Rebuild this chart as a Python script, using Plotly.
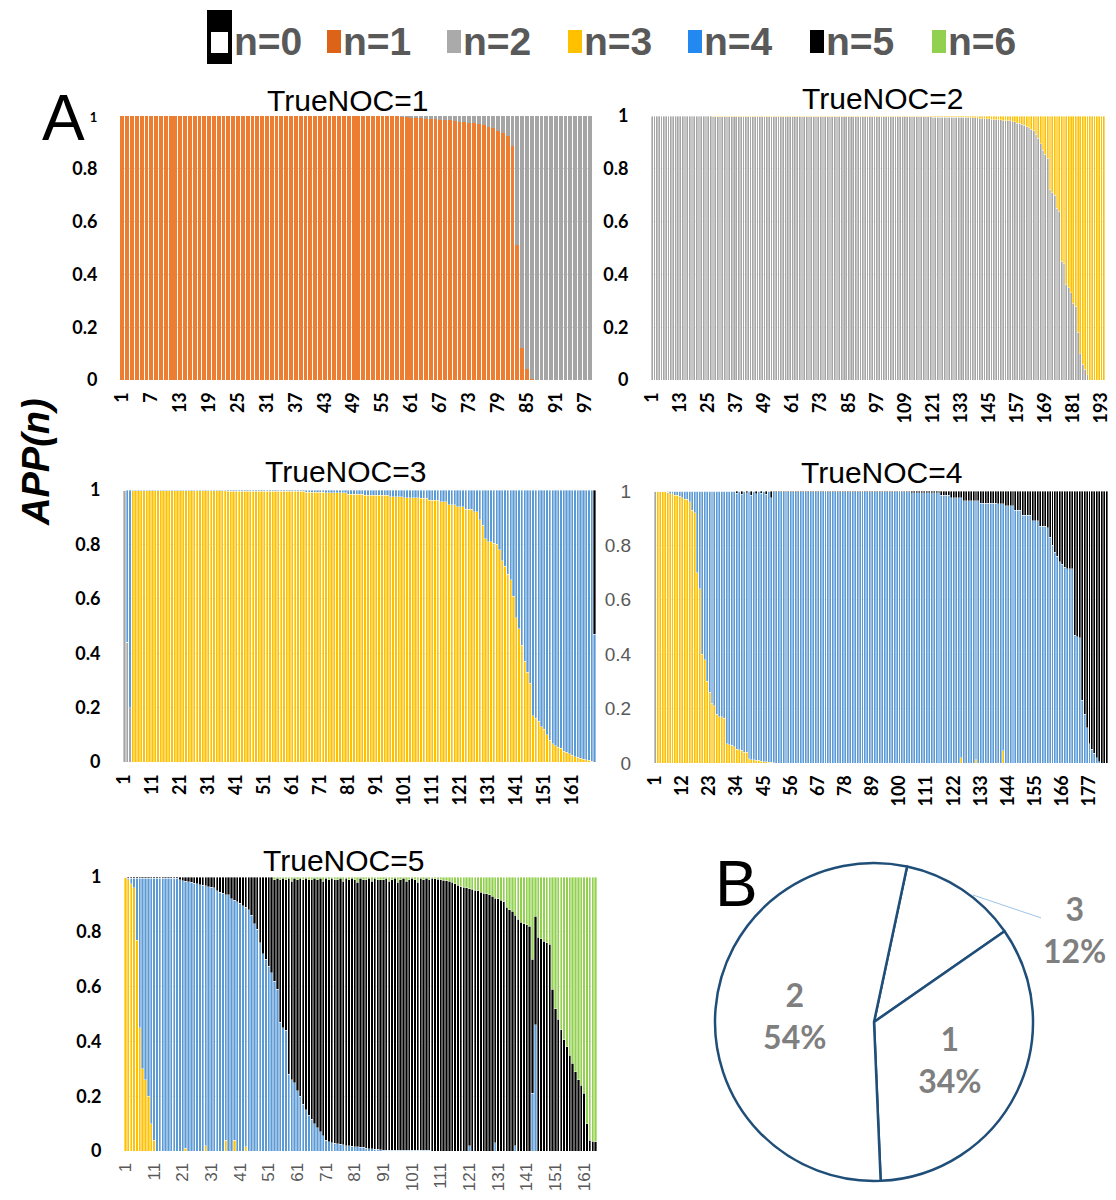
import plotly.graph_objects as go

# ---------------- DATA ----------------
# TrueNOC=1 : 98 samples, APP(n=1) and APP(n=2)
P1_X = list(range(1, 99))
P1_N1 = [
    1, 1, 1, 1, 1, 1, 1, 1, 1, 1,
    1, 1, 1, 1, 1, 1, 1, 1, 1, 1,
    1, 1, 1, 1, 1, 1, 1, 1, 1, 1,
    1, 1, 1, 1, 1, 1, 1, 1, 1, 1,
    1, 1, 1, 1, 1, 1, 1, 1, 1, 1,
    1, 1, 1, 1, 1, 1, 1, 1, 0.998, 0.997,
    0.995, 0.995, 0.993, 0.99, 0.99, 0.988, 0.986, 0.985, 0.983, 0.98,
    0.979, 0.977, 0.975, 0.972, 0.97, 0.966, 0.96, 0.955, 0.945, 0.935,
    0.925, 0.885, 0.51, 0.12, 0.04, 0.005, 0, 0, 0, 0,
    0, 0, 0, 0, 0, 0, 0, 0]
P1_X_N2 = list(range(59, 99))
P1_N2 = [
    0.002, 0.003,
    0.005, 0.005, 0.007, 0.01, 0.01, 0.012, 0.014, 0.015, 0.017, 0.02,
    0.021, 0.023, 0.025, 0.028, 0.03, 0.034, 0.04, 0.045, 0.055, 0.065,
    0.075, 0.115, 0.49, 0.88, 0.96, 0.995, 1, 1, 1, 1,
    1, 1, 1, 1, 1, 1, 1, 1]
P1_TICKS = [1, 7, 13, 19, 25, 31, 37, 43, 49, 55, 61, 67, 73, 79, 85, 91, 97]

# TrueNOC=2 : 194 samples, APP(n=2) and APP(n=3)
P2_X = list(range(1, 195))
P2_N2 = [
    1, 1, 1, 1, 1, 1, 1, 1, 1, 1,
    1, 1, 1, 1, 1, 1, 1, 1, 1, 1,
    1, 1, 1, 1, 1, 1, 0.998, 0.998, 0.998, 0.998,
    0.998, 0.998, 0.998, 0.998, 0.998, 0.998, 0.998, 0.998, 0.998, 0.998,
    0.998, 0.998, 0.998, 0.998, 0.998, 0.998, 0.998, 0.998, 0.998, 0.998,
    0.998, 0.998, 0.998, 0.998, 0.998, 0.998, 0.998, 0.998, 0.998, 0.998,
    0.998, 0.998, 0.998, 0.998, 0.998, 0.998, 0.998, 0.998, 0.998, 0.998,
    0.998, 0.998, 0.998, 0.998, 0.998, 0.998, 0.998, 0.998, 0.998, 0.998,
    0.998, 0.998, 0.998, 0.998, 0.998, 0.998, 0.998, 0.998, 0.998, 0.998,
    0.998, 0.998, 0.998, 0.998, 0.998, 0.998, 0.998, 0.998, 0.998, 0.998,
    0.997, 0.997, 0.997, 0.997, 0.997, 0.997, 0.997, 0.997, 0.997, 0.997,
    0.997, 0.997, 0.997, 0.997, 0.997, 0.997, 0.997, 0.997, 0.997, 0.997,
    0.996, 0.996, 0.996, 0.996, 0.996, 0.996, 0.996, 0.996, 0.996, 0.996,
    0.995, 0.995, 0.995, 0.995, 0.995, 0.993, 0.993, 0.993, 0.993, 0.993,
    0.99, 0.99, 0.99, 0.99, 0.99, 0.986, 0.986, 0.986, 0.986, 0.986,
    0.982, 0.982, 0.982, 0.982, 0.978, 0.978, 0.972, 0.972, 0.968, 0.965,
    0.96, 0.955, 0.95, 0.945, 0.93, 0.915, 0.895, 0.87, 0.855, 0.84,
    0.72, 0.71, 0.70, 0.65, 0.64, 0.45, 0.44, 0.36, 0.35, 0.33,
    0.29, 0.28, 0.18, 0.10, 0.06, 0.04, 0.02, 0, 0, 0,
    0, 0, 0, 0]
P2_X_N3 = list(range(27, 195))
P2_N3 = [
    0.002, 0.002, 0.002, 0.002,
    0.002, 0.002, 0.002, 0.002, 0.002, 0.002, 0.002, 0.002, 0.002, 0.002,
    0.002, 0.002, 0.002, 0.002, 0.002, 0.002, 0.002, 0.002, 0.002, 0.002,
    0.002, 0.002, 0.002, 0.002, 0.002, 0.002, 0.002, 0.002, 0.002, 0.002,
    0.002, 0.002, 0.002, 0.002, 0.002, 0.002, 0.002, 0.002, 0.002, 0.002,
    0.002, 0.002, 0.002, 0.002, 0.002, 0.002, 0.002, 0.002, 0.002, 0.002,
    0.002, 0.002, 0.002, 0.002, 0.002, 0.002, 0.002, 0.002, 0.002, 0.002,
    0.002, 0.002, 0.002, 0.002, 0.002, 0.002, 0.002, 0.002, 0.002, 0.002,
    0.003, 0.003, 0.003, 0.003, 0.003, 0.003, 0.003, 0.003, 0.003, 0.003,
    0.003, 0.003, 0.003, 0.003, 0.003, 0.003, 0.003, 0.003, 0.003, 0.003,
    0.004, 0.004, 0.004, 0.004, 0.004, 0.004, 0.004, 0.004, 0.004, 0.004,
    0.005, 0.005, 0.005, 0.005, 0.005, 0.007, 0.007, 0.007, 0.007, 0.007,
    0.01, 0.01, 0.01, 0.01, 0.01, 0.014, 0.014, 0.014, 0.014, 0.014,
    0.018, 0.018, 0.018, 0.018, 0.022, 0.022, 0.028, 0.028, 0.032, 0.035,
    0.04, 0.045, 0.05, 0.055, 0.07, 0.085, 0.105, 0.13, 0.145, 0.16,
    0.28, 0.29, 0.30, 0.35, 0.36, 0.55, 0.56, 0.64, 0.65, 0.67,
    0.71, 0.72, 0.82, 0.90, 0.94, 0.96, 0.98, 1, 1, 1,
    1, 1, 1, 1]
P2_TICKS = [1, 13, 25, 37, 49, 61, 73, 85, 97, 109, 121, 133, 145, 157, 169, 181, 193]

# TrueNOC=3 : 169 samples, APP(n=2..5)
P3_X = list(range(1, 170))
P3_X_N2 = [1, 2, 3]
P3_N2 = [1.0, 0.44, 0.2]
P3_N3 = [
    0, 0, 0, 0.998, 0.998, 0.998, 0.998, 0.998, 0.998, 0.998,
    0.997, 0.997, 0.997, 0.997, 0.997, 0.997, 0.997, 0.997, 0.997, 0.997,
    0.997, 0.997, 0.997, 0.997, 0.997, 0.997, 0.997, 0.997, 0.997, 0.997,
    0.997, 0.997, 0.997, 0.997, 0.997, 0.997, 0.997, 0.996, 0.996, 0.996,
    0.996, 0.996, 0.996, 0.996, 0.996, 0.996, 0.996, 0.996, 0.996, 0.996,
    0.996, 0.996, 0.996, 0.996, 0.996, 0.996, 0.996, 0.996, 0.995, 0.995,
    0.995, 0.995, 0.995, 0.995, 0.995, 0.992, 0.992, 0.992, 0.992, 0.992,
    0.992, 0.992, 0.99, 0.99, 0.99, 0.99, 0.99, 0.99, 0.99, 0.99,
    0.985, 0.985, 0.985, 0.985, 0.985, 0.985, 0.98, 0.98, 0.98, 0.98,
    0.98, 0.98, 0.98, 0.98, 0.98, 0.975, 0.975, 0.975, 0.975, 0.975,
    0.972, 0.972, 0.972, 0.972, 0.972, 0.972, 0.97, 0.97, 0.97, 0.962,
    0.962, 0.962, 0.962, 0.956, 0.956, 0.956, 0.945, 0.945, 0.945, 0.938,
    0.938, 0.938, 0.93, 0.93, 0.93, 0.92, 0.92, 0.89, 0.87, 0.82,
    0.81, 0.81, 0.805, 0.80, 0.78, 0.74, 0.72, 0.69, 0.67, 0.61,
    0.53, 0.49, 0.43, 0.37, 0.33, 0.29, 0.17, 0.16, 0.15, 0.13,
    0.12, 0.10, 0.08, 0.067, 0.06, 0.055, 0.05, 0.04, 0.035, 0.03,
    0.025, 0.02, 0.018, 0.014, 0.01, 0.008, 0.006, 0.003, 0]
P3_N4 = [
    0, 0.56, 0.8, 0.002, 0.002, 0.002, 0.002, 0.002, 0.002, 0.002,
    0.003, 0.003, 0.003, 0.003, 0.003, 0.003, 0.003, 0.003, 0.003, 0.003,
    0.003, 0.003, 0.003, 0.003, 0.003, 0.003, 0.003, 0.003, 0.003, 0.003,
    0.003, 0.003, 0.003, 0.003, 0.003, 0.003, 0.003, 0.004, 0.004, 0.004,
    0.004, 0.004, 0.004, 0.004, 0.004, 0.004, 0.004, 0.004, 0.004, 0.004,
    0.004, 0.004, 0.004, 0.004, 0.004, 0.004, 0.004, 0.004, 0.005, 0.005,
    0.005, 0.005, 0.005, 0.005, 0.005, 0.008, 0.008, 0.008, 0.008, 0.008,
    0.008, 0.008, 0.01, 0.01, 0.01, 0.01, 0.01, 0.01, 0.01, 0.01,
    0.015, 0.015, 0.015, 0.015, 0.015, 0.015, 0.02, 0.02, 0.02, 0.02,
    0.02, 0.02, 0.02, 0.02, 0.02, 0.025, 0.025, 0.025, 0.025, 0.025,
    0.028, 0.028, 0.028, 0.028, 0.028, 0.028, 0.03, 0.03, 0.03, 0.038,
    0.038, 0.038, 0.038, 0.044, 0.044, 0.044, 0.055, 0.055, 0.055, 0.062,
    0.062, 0.062, 0.07, 0.07, 0.07, 0.08, 0.08, 0.11, 0.13, 0.18,
    0.19, 0.19, 0.195, 0.20, 0.22, 0.26, 0.28, 0.31, 0.33, 0.39,
    0.47, 0.51, 0.57, 0.63, 0.67, 0.71, 0.83, 0.84, 0.85, 0.87,
    0.88, 0.90, 0.92, 0.933, 0.94, 0.945, 0.95, 0.96, 0.965, 0.97,
    0.975, 0.98, 0.982, 0.986, 0.99, 0.992, 0.994, 0.997, 0.47]
P3_X_N5 = [169]
P3_N5 = [0.53]
P3_TICKS = [1, 11, 21, 31, 41, 51, 61, 71, 81, 91, 101, 111, 121, 131, 141, 151, 161]

# TrueNOC=4 : 184 samples, APP(n=2..5)
P4_X = list(range(1, 185))
P4_X_N2 = [1]
P4_N2 = [1.0]
P4_X_N3 = list(range(2, 50)) + [125, 131, 142]
P4_N3 = [
    1.0, 1.0, 1.0, 0.998, 0.995, 0.99, 0.99, 0.985, 0.985, 0.98,
    0.975, 0.97, 0.97, 0.96, 0.93, 0.92, 0.70, 0.64, 0.40, 0.38,
    0.30, 0.26, 0.22, 0.21, 0.18, 0.17, 0.17, 0.165, 0.07, 0.068,
    0.065, 0.06, 0.05, 0.048, 0.047, 0.04, 0.04, 0.015, 0.012, 0.012,
    0.01, 0.01, 0.006, 0.005, 0.004, 0.003, 0.002, 0.001,
    0.02, 0.012, 0.045]
P4_N4 = [
    0, 0, 0, 0, 0.002, 0.005, 0.01, 0.01, 0.015, 0.015,
    0.02, 0.025, 0.03, 0.03, 0.04, 0.07, 0.08, 0.30, 0.36, 0.60,
    0.62, 0.70, 0.74, 0.78, 0.79, 0.82, 0.83, 0.83, 0.835, 0.93,
    0.932, 0.935, 0.94, 0.942, 0.952, 0.941, 0.96, 0.954, 0.985, 0.973,
    0.988, 0.98, 0.99, 0.986, 0.995, 0.984, 0.997, 0.973, 0.997, 0.998,
    0.998, 0.998, 0.998, 0.998, 0.998, 0.998, 0.998, 0.998, 0.998, 0.998,
    0.998, 0.998, 0.998, 0.998, 0.998, 0.998, 0.998, 0.998, 0.998, 0.998,
    0.998, 0.998, 0.998, 0.998, 0.998, 0.998, 0.998, 0.998, 0.998, 0.998,
    0.998, 0.998, 0.998, 0.998, 0.998, 0.998, 0.998, 0.998, 0.998, 0.998,
    0.998, 0.998, 0.998, 0.998, 0.998, 0.998, 0.998, 0.998, 0.998, 0.997,
    0.997, 0.997, 0.997, 0.997, 0.993, 0.993, 0.993, 0.993, 0.993, 0.993,
    0.993, 0.993, 0.993, 0.993, 0.993, 0.993, 0.985, 0.985, 0.985, 0.985,
    0.975, 0.975, 0.975, 0.975, 0.955, 0.965, 0.965, 0.965, 0.965, 0.965,
    0.953, 0.965, 0.955, 0.955, 0.955, 0.955, 0.955, 0.955, 0.955, 0.953,
    0.953, 0.908, 0.945, 0.945, 0.945, 0.945, 0.93, 0.93, 0.93, 0.91,
    0.91, 0.91, 0.91, 0.89, 0.89, 0.89, 0.87, 0.87, 0.87, 0.865,
    0.83, 0.80, 0.775, 0.76, 0.74, 0.73, 0.72, 0.715, 0.715, 0.715,
    0.47, 0.465, 0.46, 0.23, 0.18, 0.13, 0.07, 0.05, 0.035, 0.02,
    0.005, 0, 0, 0]
P4_N5 = [
    0, 0, 0, 0, 0, 0, 0, 0, 0, 0,
    0, 0, 0, 0, 0, 0, 0, 0, 0, 0,
    0, 0, 0, 0, 0, 0, 0, 0, 0, 0,
    0, 0, 0, 0.008, 0, 0.012, 0, 0.006, 0, 0.015,
    0, 0.01, 0, 0.008, 0, 0.012, 0, 0.025, 0.002, 0.002,
    0.002, 0.002, 0.002, 0.002, 0.002, 0.002, 0.002, 0.002, 0.002, 0.002,
    0.002, 0.002, 0.002, 0.002, 0.002, 0.002, 0.002, 0.002, 0.002, 0.002,
    0.002, 0.002, 0.002, 0.002, 0.002, 0.002, 0.002, 0.002, 0.002, 0.002,
    0.002, 0.002, 0.002, 0.002, 0.002, 0.002, 0.002, 0.002, 0.002, 0.002,
    0.002, 0.002, 0.002, 0.002, 0.002, 0.002, 0.002, 0.002, 0.002, 0.003,
    0.003, 0.003, 0.003, 0.003, 0.007, 0.007, 0.007, 0.007, 0.007, 0.007,
    0.007, 0.007, 0.007, 0.007, 0.007, 0.007, 0.015, 0.015, 0.015, 0.015,
    0.025, 0.025, 0.025, 0.025, 0.025, 0.035, 0.035, 0.035, 0.035, 0.035,
    0.035, 0.035, 0.045, 0.045, 0.045, 0.045, 0.045, 0.045, 0.045, 0.047,
    0.047, 0.047, 0.055, 0.055, 0.055, 0.055, 0.07, 0.07, 0.07, 0.09,
    0.09, 0.09, 0.09, 0.11, 0.11, 0.11, 0.13, 0.13, 0.13, 0.135,
    0.17, 0.20, 0.225, 0.24, 0.26, 0.27, 0.28, 0.285, 0.285, 0.285,
    0.53, 0.535, 0.54, 0.77, 0.82, 0.87, 0.93, 0.95, 0.965, 0.98,
    0.995, 1, 1, 1]
P4_TICKS = [1, 12, 23, 34, 45, 56, 67, 78, 89, 100, 111, 122, 133, 144, 155, 166, 177]

# TrueNOC=5 : 165 samples, APP(n=3..6)
P5_X = list(range(1, 166))
P5_X_N3 = [1, 2, 3, 4, 5, 6, 7, 8, 9, 10, 11, 22, 29, 36, 39, 43]
P5_N3 = [1.0, 0.99, 0.975, 0.96, 0.77, 0.45, 0.30, 0.26, 0.20, 0.10, 0.04,
         0.01, 0.02, 0.04, 0.04, 0.015]
P5_N4 = [
    0, 0.005, 0.02, 0.035, 0.225, 0.545, 0.695, 0.735, 0.795, 0.895,
    0.955, 0.995, 0.995, 0.995, 0.995, 0.995, 0.995, 0.995, 0.995, 0.99,
    0.987, 0.975, 0.983, 0.98, 0.978, 0.975, 0.972, 0.97, 0.948, 0.965,
    0.962, 0.96, 0.95, 0.945, 0.94, 0.895, 0.935, 0.92, 0.875, 0.91,
    0.905, 0.895, 0.875, 0.88, 0.86, 0.83, 0.81, 0.76, 0.72, 0.70,
    0.675, 0.65, 0.62, 0.59, 0.47, 0.45, 0.44, 0.28, 0.26, 0.25,
    0.22, 0.20, 0.17, 0.15, 0.13, 0.115, 0.10, 0.085, 0.07, 0.055,
    0.04, 0.034, 0.03, 0.028, 0.026, 0.024, 0.022, 0.02, 0.019, 0.018,
    0.016, 0.015, 0.014, 0.013, 0.01, 0.009, 0.008, 0.007, 0.006, 0.005,
    0.002, 0.002, 0.002, 0.002, 0.002, 0.002, 0.002, 0.002, 0.002, 0.002,
    0.002, 0.002, 0.002, 0.002, 0.002, 0.002, 0.002, 0, 0, 0,
    0, 0, 0, 0, 0, 0, 0, 0, 0, 0,
    0.02, 0, 0, 0, 0, 0, 0, 0, 0, 0.03,
    0, 0, 0, 0, 0, 0, 0.02, 0, 0, 0,
    0, 0, 0.21, 0.46, 0, 0, 0, 0, 0, 0,
    0, 0, 0, 0, 0, 0, 0, 0, 0, 0,
    0, 0, 0, 0, 0]
P5_N5 = [
    0, 0.005, 0.005, 0.005, 0.005, 0.005, 0.005, 0.005, 0.005, 0.005,
    0.005, 0.005, 0.005, 0.005, 0.005, 0.005, 0.005, 0.005, 0.005, 0.01,
    0.013, 0.015, 0.017, 0.02, 0.022, 0.025, 0.028, 0.03, 0.032, 0.035,
    0.038, 0.04, 0.05, 0.055, 0.06, 0.065, 0.065, 0.08, 0.085, 0.09,
    0.095, 0.105, 0.11, 0.12, 0.14, 0.17, 0.19, 0.24, 0.28, 0.30,
    0.325, 0.35, 0.37, 0.405, 0.52, 0.545, 0.55, 0.715, 0.725, 0.745,
    0.77, 0.795, 0.82, 0.845, 0.86, 0.875, 0.895, 0.905, 0.925, 0.93,
    0.955, 0.956, 0.965, 0.962, 0.964, 0.971, 0.963, 0.975, 0.971, 0.977,
    0.974, 0.965, 0.981, 0.977, 0.98, 0.986, 0.977, 0.988, 0.984, 0.985,
    0.988, 0.993, 0.983, 0.988, 0.993, 0.978, 0.988, 0.993, 0.983, 0.988,
    0.993, 0.988, 0.978, 0.993, 0.988, 0.993, 0.988, 0.995, 0.993, 0.992,
    0.99, 0.988, 0.986, 0.985, 0.98, 0.975, 0.97, 0.965, 0.962, 0.96,
    0.938, 0.955, 0.952, 0.95, 0.945, 0.94, 0.938, 0.935, 0.93, 0.893,
    0.92, 0.915, 0.91, 0.89, 0.88, 0.875, 0.84, 0.845, 0.835, 0.83,
    0.825, 0.82, 0.49, 0.397, 0.78, 0.775, 0.766, 0.76, 0.754, 0.59,
    0.52, 0.48, 0.443, 0.406, 0.38, 0.35, 0.32, 0.29, 0.26, 0.24,
    0.21, 0.10, 0.04, 0.035, 0.034]
P5_X_N6 = list(range(53, 166))
P5_N6 = [
    0.01, 0.005, 0.01, 0.005, 0.01, 0.005, 0.015, 0.005,
    0.01, 0.005, 0.01, 0.005, 0.01, 0.01, 0.005, 0.01, 0.005, 0.015,
    0.005, 0.01, 0.005, 0.01, 0.01, 0.005, 0.015, 0.005, 0.01, 0.005,
    0.01, 0.02, 0.005, 0.01, 0.01, 0.005, 0.015, 0.005, 0.01, 0.01,
    0.01, 0.005, 0.015, 0.01, 0.005, 0.02, 0.01, 0.005, 0.015, 0.01,
    0.005, 0.01, 0.02, 0.005, 0.01, 0.005, 0.01, 0.005, 0.007, 0.008,
    0.01, 0.012, 0.014, 0.015, 0.02, 0.025, 0.03, 0.035, 0.038, 0.04,
    0.042, 0.045, 0.048, 0.05, 0.055, 0.06, 0.062, 0.065, 0.07, 0.077,
    0.08, 0.085, 0.09, 0.11, 0.12, 0.125, 0.14, 0.155, 0.165, 0.17,
    0.175, 0.18, 0.30, 0.143, 0.22, 0.225, 0.234, 0.24, 0.246, 0.41,
    0.48, 0.52, 0.557, 0.594, 0.62, 0.65, 0.68, 0.71, 0.74, 0.76,
    0.79, 0.90, 0.96, 0.965, 0.966]
P5_TICKS = [1, 11, 21, 31, 41, 51, 61, 71, 81, 91, 101, 111, 121, 131, 141, 151, 161]

# Pie (B)
PIE_LABELS = ["3", "1", "2"]
PIE_VALUES = [12, 34, 54]

LEGEND_NAMES = ["n=0", "n=1", "n=2", "n=3", "n=4", "n=5", "n=6"]
PANEL_TITLES = ["TrueNOC=1", "TrueNOC=2", "TrueNOC=3", "TrueNOC=4", "TrueNOC=5"]

# ---------------- STYLE ----------------
W, H = 1116, 1200
C = {1: "#ED7D31", 2: "#A5A5A5", 3: "#FFC000", 4: "#5B9BD5", 5: "#000000", 6: "#92D050"}
LEG_C = {1: "#DD6318", 2: "#AAAAAA", 3: "#FFC000", 4: "#2388F0", 5: "#000000", 6: "#92D050"}


def fx(px):
    return px / W


def fy(py):
    return 1 - py / H


fig = go.Figure()


def add_bar(x, y, n, ax, edge):
    fig.add_trace(go.Bar(
        x=x, y=y,
        marker=dict(color=C[n], line=dict(width=edge, color="rgba(255,255,255,0.85)")),
        xaxis="x" + ax, yaxis="y" + ax, showlegend=False, hoverinfo="skip"))


add_bar(P1_X, P1_N1, 1, "", 0)
add_bar(P1_X_N2, P1_N2, 2, "", 0)
add_bar(P2_X, P2_N2, 2, "2", 0.45)
add_bar(P2_X_N3, P2_N3, 3, "2", 0.45)
add_bar(P3_X_N2, P3_N2, 2, "3", 0.45)
add_bar(P3_X, P3_N3, 3, "3", 0.45)
add_bar(P3_X, P3_N4, 4, "3", 0.45)
add_bar(P3_X_N5, P3_N5, 5, "3", 0.45)
add_bar(P4_X_N2, P4_N2, 2, "4", 0.45)
add_bar(P4_X_N3, P4_N3, 3, "4", 0.45)
add_bar(P4_X, P4_N4, 4, "4", 0.45)
add_bar(P4_X, P4_N5, 5, "4", 0.45)
add_bar(P5_X_N3, P5_N3, 3, "5", 0.45)
add_bar(P5_X, P5_N4, 4, "5", 0.45)
add_bar(P5_X, P5_N5, 5, "5", 0.45)
add_bar(P5_X_N6, P5_N6, 6, "5", 0.45)

PIE_FONT = dict(family="Lato, Liberation Sans, sans-serif", size=32, color="#7F7F7F", weight="bold")
fig.add_trace(go.Pie(
    labels=PIE_LABELS, values=PIE_VALUES, sort=False, direction="clockwise", rotation=12,
    marker=dict(colors=["white", "white", "white"], line=dict(color="#1F4E79", width=2.5)),
    texttemplate=["", "%{label}<br>%{percent:.0%}", "%{label}<br>%{percent:.0%}"],
    textposition="inside", insidetextorientation="horizontal",
    insidetextfont=PIE_FONT, showlegend=False, hoverinfo="skip",
    domain=dict(x=[fx(715), fx(1033)], y=[fy(1181), fy(863)])))

BOLD_TICK = dict(family="Lato, Liberation Sans, sans-serif", size=18, color="black", weight="bold")
GRAY_TICK = dict(family="Liberation Sans, Arial, sans-serif", size=19, color="#595959")

Y_TEXT = ["0", "0.2", "0.4", "0.6", "0.8", "1"]
Y_TEXT_P1 = ["0", "0.2", "0.4", "0.6", "0.8", "<span style='font-size:13px'>1</span>"]

panels = [
    ("", P1_X, P1_TICKS, (120, 592), (116, 380), BOLD_TICK, BOLD_TICK, Y_TEXT_P1),
    ("2", P2_X, P2_TICKS, (651, 1105), (116, 380), BOLD_TICK, BOLD_TICK, Y_TEXT),
    ("3", P3_X, P3_TICKS, (123, 596), (490, 762), BOLD_TICK, BOLD_TICK, Y_TEXT),
    ("4", P4_X, P4_TICKS, (654, 1108), (491, 763), BOLD_TICK, GRAY_TICK, Y_TEXT),
    ("5", P5_X, P5_TICKS, (124, 597), (877, 1151), dict(GRAY_TICK, size=17), BOLD_TICK, Y_TEXT),
]
layout_axes = {}
for ax, xs, ticks, (x0, x1), (y0, y1), xfont, yfont, ytext in panels:
    layout_axes["xaxis" + ax] = dict(
        domain=[fx(x0), fx(x1)], anchor="y" + ax, range=[0.5, len(xs) + 0.5],
        tickmode="array", tickvals=ticks, ticktext=[str(t) for t in ticks],
        tickangle=-90, tickfont=xfont, showgrid=False, zeroline=False, showline=False,
        ticks="outside", ticklen=4, tickcolor="rgba(0,0,0,0)")
    layout_axes["yaxis" + ax] = dict(
        domain=[fy(y1), fy(y0)], anchor="x" + ax, range=[0, 1],
        tickmode="array", tickvals=[0, 0.2, 0.4, 0.6, 0.8, 1],
        ticktext=ytext, tickfont=yfont,
        showgrid=True, gridcolor="#D9D9D9", gridwidth=1, zeroline=False, showline=False,
        ticks="outside", ticklen=18, tickcolor="rgba(0,0,0,0)")

annotations = []
TITLE_FONT = dict(family="Liberation Sans, Arial, sans-serif", size=30, color="black")
for title, (tx, ty) in zip(PANEL_TITLES, [(347, 100), (882, 98), (345, 471), (881, 472), (343, 860)]):
    annotations.append(dict(text=title, x=fx(tx), y=fy(ty), xref="paper", yref="paper",
                            showarrow=False, font=TITLE_FONT, xanchor="center", yanchor="middle"))

BIG = dict(family="Liberation Sans, Arial, sans-serif", size=64, color="black")
annotations.append(dict(text="A", x=fx(63), y=fy(118), xref="paper", yref="paper",
                        showarrow=False, font=BIG, xanchor="center", yanchor="middle"))
annotations.append(dict(text="B", x=fx(736), y=fy(884), xref="paper", yref="paper",
                        showarrow=False, font=BIG, xanchor="center", yanchor="middle"))
annotations.append(dict(text="<b><i>APP(n)</i></b>", x=fx(36), y=fy(462), xref="paper", yref="paper",
                        showarrow=False, textangle=-90,
                        font=dict(family="Liberation Sans, Arial, sans-serif", size=38, color="black"),
                        xanchor="center", yanchor="middle"))
# label of slice "3" placed outside with a thin leader line
annotations.append(dict(text="%s<br>%d%%" % (PIE_LABELS[0], PIE_VALUES[0]), x=fx(973), y=fy(895),
                        xref="paper", yref="paper", showarrow=True, arrowhead=0, arrowwidth=1,
                        arrowcolor="#9DC3E6", ax=101, ay=34, font=PIE_FONT))

# legend (manual)
shapes = []
LEG_FONT = dict(family="Liberation Sans, Arial, sans-serif", size=39, color="#595959", weight="bold")
sw_left = [None, 327, 447, 568, 688, 810, 932]
for i, name in enumerate(LEGEND_NAMES):
    if i == 0:
        shapes.append(dict(type="rect", xref="paper", yref="paper", x0=fx(207), x1=fx(232),
                           y0=fy(64), y1=fy(10), fillcolor="black", line=dict(width=0)))
        shapes.append(dict(type="rect", xref="paper", yref="paper", x0=fx(211), x1=fx(228),
                           y0=fy(53), y1=fy(32), fillcolor="white", line=dict(width=0)))
        tx = 232
    else:
        shapes.append(dict(type="rect", xref="paper", yref="paper", x0=fx(sw_left[i]),
                           x1=fx(sw_left[i] + 14), y0=fy(53), y1=fy(30),
                           fillcolor=LEG_C[i], line=dict(width=0)))
        tx = sw_left[i] + 14
    annotations.append(dict(text=name, x=fx(tx), y=fy(41), xref="paper", yref="paper",
                            showarrow=False, font=LEG_FONT, xanchor="left", yanchor="middle"))

fig.update_layout(
    width=W, height=H, margin=dict(l=0, r=0, t=0, b=0),
    template="none", paper_bgcolor="white", plot_bgcolor="white",
    barmode="stack", bargap=0.2, showlegend=False,
    annotations=annotations, shapes=shapes, **layout_axes)

fig.write_html("out.html", config={"displayModeBar": False},
               post_script="document.body.style.margin='0';document.documentElement.style.overflow='hidden';")
